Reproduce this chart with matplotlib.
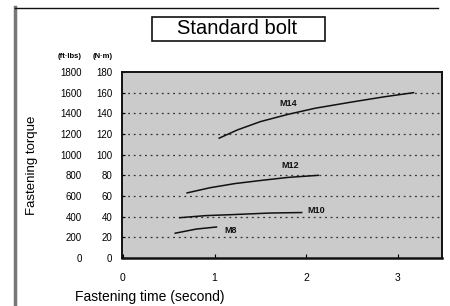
import matplotlib
matplotlib.use("Agg")
import matplotlib.pyplot as plt
from matplotlib.patches import Rectangle
from matplotlib.lines import Line2D

plt.rcParams['font.family'] = ['Liberation Sans', 'DejaVu Sans']

# values: fastening time (s) vs torque (N·m)
m14_time = [1.05, 1.25, 1.5, 1.8, 2.1, 2.5, 2.85, 3.17]
m14_torque = [116, 124, 132, 139, 145, 151, 156, 160]
m12_time = [0.70, 0.95, 1.22, 1.5, 1.8, 2.13]
m12_torque = [63, 68, 72, 75, 78, 80]
m10_time = [0.62, 0.9, 1.2, 1.6, 1.95]
m10_torque = [39, 41, 42, 43.5, 44]
m8_time = [0.57, 0.8, 1.02]
m8_torque = [24, 28, 30]

nm_ticks = [0, 20, 40, 60, 80, 100, 120, 140, 160, 180]
ftlb_ticks = [0, 200, 400, 600, 800, 1000, 1200, 1400, 1600, 1800]
x_ticks = [0, 1, 2, 3]

series = [
    ("M14", m14_time, m14_torque, (1.80, 150)),
    ("M12", m12_time, m12_torque, (1.82, 90)),
    ("M10", m10_time, m10_torque, (2.11, 46)),
    ("M8", m8_time, m8_torque, (1.17, 27)),
]

fig = plt.figure(figsize=(4.5, 3.06), dpi=100)
fig.patch.set_facecolor('white')
ax = fig.add_axes([122 / 450, 48 / 306, 320 / 450, 186 / 306])
ax.set_facecolor('#cbcbcb')
ax.set_xlim(-0.01, 3.48)
ax.set_ylim(0, 180)

for y in nm_ticks[1:-1]:
    ax.axhline(y, color='#333333', lw=0.9, ls=(0, (1.5, 3)), zorder=1)

for name, t, q, (lx, ly) in series:
    ax.plot(t, q, color='#111111', lw=1.1, zorder=3)
    ax.text(lx, ly, name, fontsize=6.5, fontweight='bold', ha='center',
            va='center', color='#111111', zorder=4)

for s in ax.spines.values():
    s.set_linewidth(1.4)
    s.set_color('#111111')
ax.spines['bottom'].set_linewidth(1.8)

ax.set_xticks(x_ticks)
ax.set_xticklabels([str(v) for v in x_ticks], fontsize=7.5)
ax.tick_params(axis='x', direction='in', length=3, pad=11)
ax.set_yticks(nm_ticks)
ax.set_yticklabels([str(v) for v in nm_ticks], fontsize=7)
ax.tick_params(axis='y', direction='in', length=2, pad=7)

sec = ax.secondary_yaxis('left', functions=(lambda v: v * 10, lambda v: v / 10))
sec.set_yticks(ftlb_ticks)
sec.set_yticklabels([str(v) for v in ftlb_ticks], fontsize=7)
sec.tick_params(axis='y', length=0, pad=29)
sec.spines['left'].set_visible(False)

fig.text(70 / 450, 1 - 57 / 306, "(ft·lbs)", fontsize=5.5, fontweight='bold',
         ha='center', va='center')
fig.text(103 / 450, 1 - 57 / 306, "(N·m)", fontsize=5.5, fontweight='bold',
         ha='center', va='center')

fig.text(32 / 450, 1 - 165 / 306, "Fastening torque", fontsize=9.5,
         rotation=90, ha='center', va='center')
fig.text(75 / 450, 1 - 297 / 306, "Fastening time (second)", fontsize=10,
         ha='left', va='center')

# title box
fig.patches.append(Rectangle((152 / 450, 1 - 41 / 306), 173 / 450, 24 / 306,
                             transform=fig.transFigure, fill=False,
                             lw=1.2, edgecolor='#111111'))
fig.text(237 / 450, 1 - 29 / 306, "Standard bolt", fontsize=14.5,
         ha='center', va='center')

# page frame
fig.lines.append(Line2D([15 / 450, 15 / 450], [0, 1 - 7 / 306],
                        transform=fig.transFigure, color='#777777', lw=2.5))
fig.lines.append(Line2D([15 / 450, 438 / 450], [1 - 7.5 / 306, 1 - 7.5 / 306],
                        transform=fig.transFigure, color='#111111', lw=1))

fig.savefig("out.png", dpi=100)
